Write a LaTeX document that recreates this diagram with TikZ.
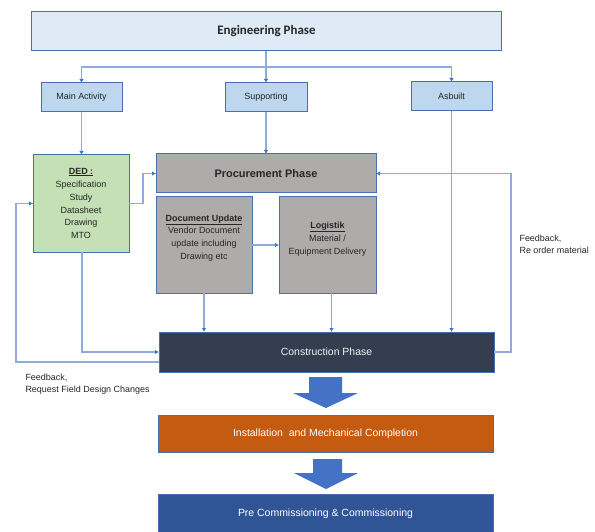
\documentclass[tikz,border=0pt]{standalone}
\usepackage{fontspec}
\setmainfont{Liberation Sans}
\newfontfamily\calfont{Carlito}
\usepackage{tikz}
\usetikzlibrary{arrows.meta, positioning, calc}

\definecolor{edgeblue}{HTML}{4A6FAF}
\definecolor{lineblue}{HTML}{8FAADC}
\definecolor{tipblue}{HTML}{4472C4}
\definecolor{engfill}{HTML}{DEEBF7}
\definecolor{subfill}{HTML}{BDD7EE}
\definecolor{dedfill}{HTML}{C5E0B4}
\definecolor{procfill}{HTML}{AEABAB}
\definecolor{consfill}{HTML}{333F50}
\definecolor{instfill}{HTML}{C55A11}
\definecolor{prefill}{HTML}{2F5597}
\definecolor{txtgray}{HTML}{262626}

\begin{document}
\begin{tikzpicture}[x=1bp, y=-1bp,
  every node/.style={font=\fontsize{9}{13}\selectfont, text=txtgray},
  box/.style={draw=edgeblue, line width=1bp, rectangle, inner sep=0pt, outer sep=0pt, align=center},
  flow/.style={draw=lineblue, line width=1.3bp, -{Latex[length=4bp,width=4.5bp,color=tipblue]}},
  bigarrow/.style={fill=tipblue}]
\useasboundingbox (0,0) rectangle (595,532);
% Phases and activities
\node[box, fill=engfill, minimum width=469bp, minimum height=39bp] (eng) at (266.5,31.5) {\calfont\fontsize{13}{15}\selectfont\bfseries Engineering Phase};

\node[box, fill=subfill, minimum width=81bp, minimum height=29bp] (main) at (81.5,97.5) {Main Activity};
\node[box, fill=subfill, minimum width=82bp, minimum height=29bp] (supp) at (266,97.5) {Supporting};
\node[box, fill=subfill, minimum width=81bp, minimum height=29bp] (asb) at (451.5,96.5) {Asbuilt};

\node[box, fill=dedfill, minimum width=96bp, minimum height=97bp] (ded) at (81,203.5) {\underline{\textbf{DED :}}\\Specification\\Study\\Datasheet\\Drawing\\MTO};

\node[box, fill=procfill, minimum width=220bp, minimum height=39bp] (proc) at (266,173.5) {\fontsize{11}{13}\selectfont\bfseries Procurement Phase};
\node[box, fill=procfill, minimum width=96bp, minimum height=96bp] (docu) at (204,245) {};
\node[align=center, anchor=north] (docutxt) at (204,211) {\underline{\textbf{Document Update}}\\Vendor Document\\update including\\Drawing etc};
\node[box, fill=procfill, minimum width=97bp, minimum height=96bp] (logi) at (327.5,245) {};
\node[align=center] (logitxt) at (327.5,239) {\underline{\textbf{Logistik}}\\Material /\\Equipment Delivery};

\node[box, fill=consfill, minimum width=335bp, minimum height=40bp] (cons) at (326.5,352) {\color{white!90!gray}\fontsize{10.5}{13}\selectfont Construction Phase};
\node[box, fill=instfill, minimum width=335bp, minimum height=37bp] (inst) at (325.5,433.5) {\color{white}\fontsize{10.5}{13}\selectfont Installation\ \ and Mechanical Completion};
\node[box, fill=prefill, minimum width=335bp, minimum height=40bp] (pre) at (325.5,514) {\color{white}\fontsize{10.5}{13}\selectfont Pre Commissioning \& Commissioning};

% Feedback labels
\node[align=left, anchor=north west] (fbltxt) at (22,370) {Feedback,\\Request Field Design Changes};
\node[align=left, anchor=north west] (fbrtxt) at (516,231) {Feedback,\\Re order material};

% Connectors
\coordinate (split) at (266,67);
\coordinate (fbl) at (16,203.5);
\coordinate (fbr) at (511,260);

\draw[flow] (supp.north |- eng.south) -- (supp.north);
\draw[flow] (split) -| (main.north);
\draw[flow] (split) -| (asb.north);

\draw[flow] (main.south) -- (main.south |- ded.north);
\draw[flow] (supp) -- (proc);
\draw[flow] (asb.south) -- (asb.south |- cons.north);

\draw[flow] (ded.east) -- ++(14,0) |- (proc.west);
\draw[flow] (docu) -- (logi);
\draw[flow] (docu.south) -- (docu.south |- cons.north);
\draw[flow] ([xshift=4bp]logi.south) -- ([xshift=4bp]logi.south |- cons.north);
\draw[flow] ([xshift=1bp]ded.south) |- (cons.west);

\draw[flow] ([yshift=-10bp]cons.west) -| (fbl) -- (ded.west);
\draw[flow] (cons.east) -| (fbr) |- (proc.east);

% Big arrows
\fill[bigarrow] (309,377) -- (342,377) -- (342,393) -- (358,393) -- (326,408) -- (293,393) -- (309,393) -- cycle;
\fill[bigarrow] (313,459) -- (342,459) -- (342,473) -- (358,473) -- (326,489) -- (294,473) -- (313,473) -- cycle;
\end{tikzpicture}
\end{document}
